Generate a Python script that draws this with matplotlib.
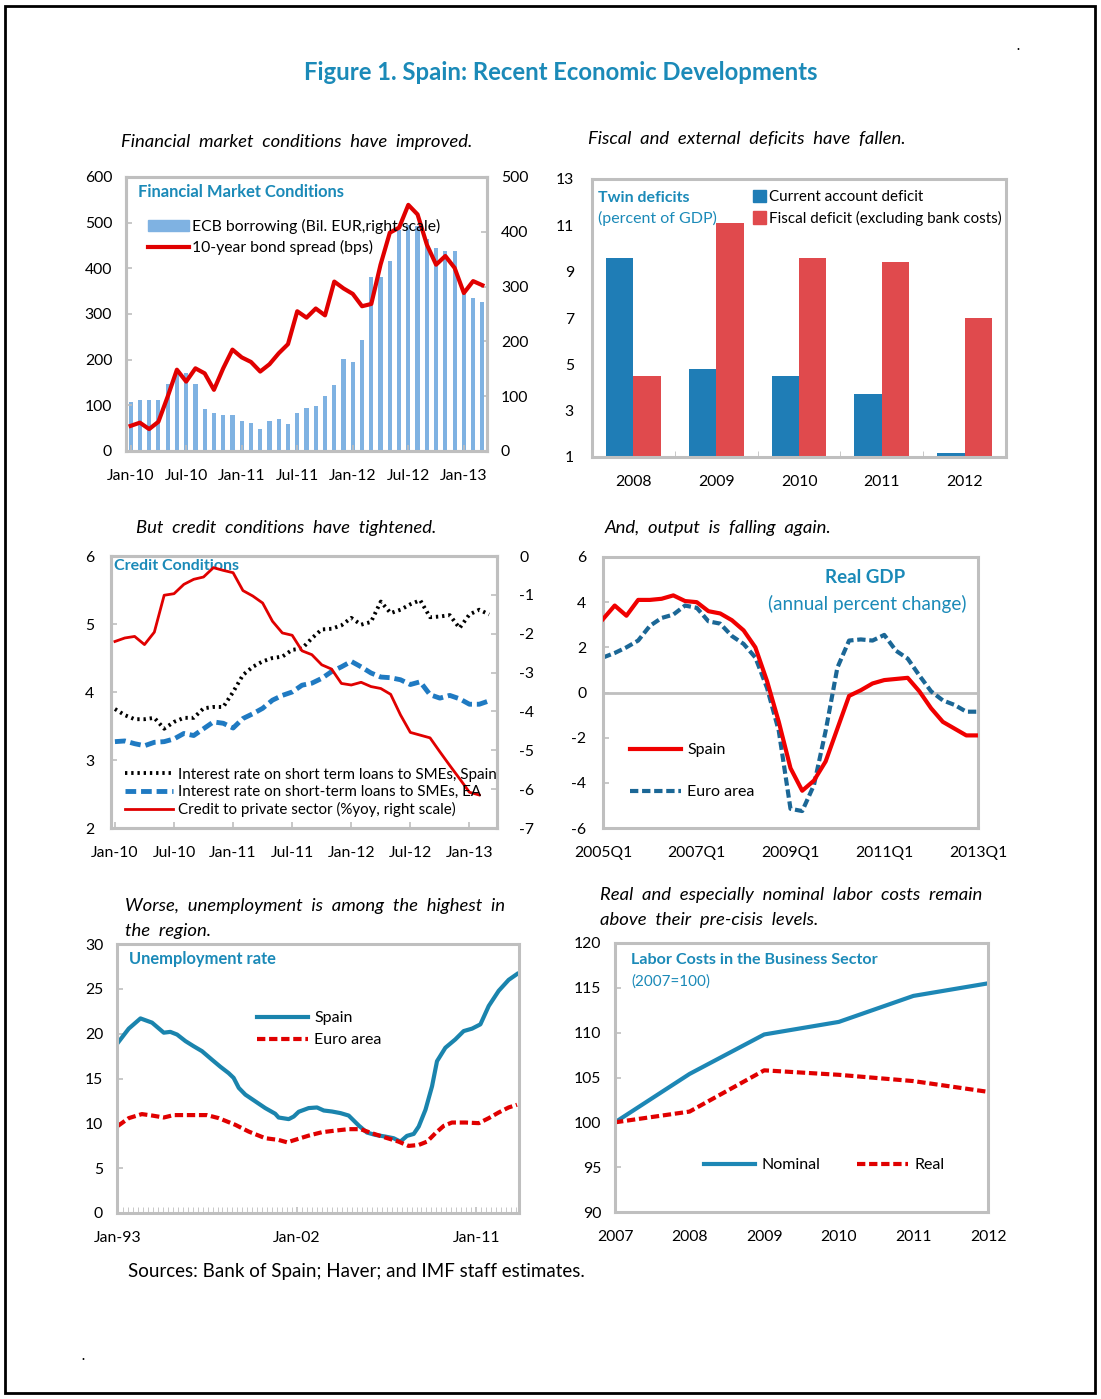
import numpy as np
import matplotlib.pyplot as plt
from matplotlib.patches import Rectangle, Patch
from matplotlib.lines import Line2D

plt.rcParams['font.family'] = ['Lato', 'DejaVu Sans']
plt.rcParams['font.size'] = 11
plt.rcParams['axes.unicode_minus'] = False

W, H = 1101, 1399
TEAL = '#1b8ab8'
FRAME = '#bfbfbf'

###############################
### data

# financial market conditions, monthly Jan-10 .. Mar-13
fm_ticks = ['Jan-10', 'Jul-10', 'Jan-11', 'Jul-11', 'Jan-12', 'Jul-12', 'Jan-13']
ecb_borrowing = [90, 93, 93, 93, 122, 142, 142, 122, 77, 70, 66, 65,
                 54, 51, 40, 54, 59, 49, 70, 79, 83, 101, 120, 168,
                 163, 203, 318, 318, 346, 404, 412, 410, 386, 370, 365, 365,
                 290, 280, 271]
bond_spread = [55, 62, 48, 64, 119, 178, 152, 181, 170, 134, 181, 222,
               205, 195, 174, 190, 214, 234, 306, 292, 312, 297, 371, 356,
               344, 317, 322, 408, 478, 489, 539, 518, 452, 408, 427, 401,
               346, 372, 363]

# twin deficits
years_td = ['2008', '2009', '2010', '2011', '2012']
current_account = [9.6, 4.8, 4.5, 3.7, 1.17]
fiscal_deficit = [4.5, 11.1, 9.6, 9.4, 7.0]

# credit conditions, monthly Jan-10 .. Mar-13
cc_ticks = fm_ticks
sme_spain = [3.75, 3.66, 3.60, 3.60, 3.62, 3.46, 3.56, 3.62, 3.62, 3.76, 3.78, 3.78,
             4.00, 4.25, 4.37, 4.45, 4.50, 4.52, 4.62, 4.64, 4.79, 4.92, 4.93, 4.98,
             5.09, 4.99, 5.03, 5.33, 5.16, 5.21, 5.29, 5.35, 5.10, 5.11, 5.13, 4.94,
             5.14, 5.21, 5.14]
sme_ea = [3.27, 3.28, 3.24, 3.21, 3.26, 3.27, 3.31, 3.39, 3.36, 3.46, 3.56, 3.54,
          3.47, 3.61, 3.68, 3.76, 3.88, 3.95, 4.00, 4.10, 4.13, 4.20, 4.30, 4.37,
          4.45, 4.37, 4.28, 4.22, 4.21, 4.18, 4.11, 4.15, 3.96, 3.91, 3.95, 3.90,
          3.82, 3.82, 3.87]
credit_private = [-2.20, -2.11, -2.07, -2.28, -1.96, -1.01, -0.97, -0.73, -0.60, -0.54, -0.30, -0.37,
                  -0.43, -0.89, -1.03, -1.21, -1.68, -1.98, -2.04, -2.44, -2.54, -2.80, -2.91, -3.28,
                  -3.32, -3.25, -3.36, -3.41, -3.56, -4.09, -4.54, -4.61, -4.68, -5.04, -5.39, -5.73,
                  -6.08, -6.15]

# real GDP, quarterly 2005Q1 .. 2013Q1
gdp_ticks = ['2005Q1', '2007Q1', '2009Q1', '2011Q1', '2013Q1']
gdp_spain = [3.25, 3.85, 3.4, 4.1, 4.1, 4.15, 4.3, 4.05, 4.0, 3.6, 3.5, 3.2,
             2.75, 2.0, 0.5, -1.3, -3.35, -4.35, -3.9, -3.05, -1.6, -0.15, 0.1, 0.4,
             0.55, 0.6, 0.65, 0.05, -0.7, -1.3, -1.6, -1.9, -1.9]
gdp_ea = [1.55, 1.75, 2.0, 2.3, 2.95, 3.3, 3.45, 3.85, 3.75, 3.15, 3.05, 2.5,
          2.15, 1.55, 0.2, -1.7, -5.15, -5.25, -4.1, -1.7, 1.1, 2.3, 2.35, 2.3,
          2.55, 1.85, 1.5, 0.75, 0.05, -0.35, -0.55, -0.85, -0.85]

# unemployment rate (decimal year, percent)
ue_ticks = ['Jan-93', 'Jan-02', 'Jan-11']
ue_spain_t = [1993.0, 1993.54, 1994.13, 1994.71, 1995.3, 1995.63, 1995.97, 1996.39, 1996.8,
              1997.22, 1997.72, 1998.15, 1998.56, 1998.81, 1999.07, 1999.4, 1999.9, 2000.4,
              2000.9, 2001.07, 2001.58, 2001.83, 2002.08, 2002.58, 2003.0, 2003.34, 2003.75,
              2004.18, 2004.59, 2005.1, 2005.51, 2005.93, 2006.44, 2006.85, 2007.19, 2007.52,
              2007.86, 2008.11, 2008.45, 2008.78, 2009.03, 2009.45, 2009.95, 2010.37, 2010.79,
              2011.21, 2011.63, 2012.13, 2012.63, 2013.05]
ue_spain = [19.0, 20.56, 21.7, 21.23, 20.11, 20.2, 19.9, 19.17, 18.6,
            18.05, 17.1, 16.3, 15.6, 15.07, 13.95, 13.2, 12.45, 11.7,
            11.07, 10.65, 10.47, 10.76, 11.29, 11.7, 11.77, 11.43, 11.32,
            11.14, 10.87, 9.75, 8.97, 8.71, 8.52, 8.34, 7.96, 8.6,
            8.82, 9.64, 11.51, 14.13, 16.93, 18.43, 19.36, 20.29, 20.56,
            21.04, 23.09, 24.78, 26.0, 26.65]
ue_ea_t = [1993.0, 1993.54, 1994.2, 1994.71, 1995.3, 1995.8, 1996.72, 1997.47, 1998.06,
           1998.9, 1999.57, 2000.4, 2001.07, 2001.5, 2002.58, 2003.25, 2003.92, 2004.59,
           2005.18, 2005.76, 2006.44, 2007.1, 2007.6, 2008.11, 2008.53, 2008.95, 2009.37,
           2009.78, 2010.46, 2011.13, 2011.63, 2012.13, 2012.63, 2013.05]
ue_ea = [9.72, 10.58, 11.03, 10.87, 10.65, 10.92, 10.92, 10.92, 10.58,
         9.83, 9.08, 8.34, 8.15, 7.88, 8.63, 9.01, 9.19, 9.35,
         9.35, 8.9, 8.41, 7.96, 7.48, 7.59, 7.96, 8.9, 9.72,
         10.09, 10.09, 10.02, 10.58, 11.21, 11.77, 12.07]

# labor costs (2007=100)
lc_years = [2007, 2008, 2009, 2010, 2011, 2012]
lc_nominal = [100, 105.4, 109.8, 111.2, 114.1, 115.5]
lc_real = [100, 101.2, 105.8, 105.3, 104.6, 103.4]


###############################
### helpers

fig = plt.figure(figsize=(W / 100, H / 100), dpi=100)


def px_axes(l, t, r, b):
    return fig.add_axes([l / W, 1 - b / H, (r - l) / W, (b - t) / H])


def ftext(x, y, s, **kw):
    kw.setdefault('va', 'center')
    fig.text(x / W, 1 - y / H, s, **kw)


def frame(ax, ypad=10, xpad=13):
    for sp in ax.spines.values():
        sp.set_color(FRAME)
        sp.set_linewidth(2.2)
    ax.tick_params(direction='in', length=4, width=1.2, color=FRAME,
                   labelsize=11.3, labelcolor='black')
    ax.tick_params(axis='y', pad=ypad)
    ax.tick_params(axis='x', pad=xpad)


def figbox(x, y):
    return (x / W, 1 - y / H)


###############################
### border + title

fig.add_artist(Rectangle((5 / W, 6 / H), 1090 / W, 1387 / H, transform=fig.transFigure,
                         fill=False, lw=2, ec='black'))
ftext(561, 73, 'Figure 1. Spain: Recent Economic Developments', ha='center',
      fontsize=17.2, fontweight='bold', color=TEAL)
ftext(1018, 46, '.', ha='center', fontsize=9, fontweight='bold', color='black')
ftext(83, 1356, '.', ha='center', fontsize=9, fontweight='bold', color='black')

sub = dict(fontsize=13.3, style='italic', color='black')
ftext(297, 142, 'Financial  market  conditions  have  improved.', ha='center', **sub)
ftext(588, 139, 'Fiscal  and  external  deficits  have  fallen.', ha='left', **sub)
ftext(136, 528, 'But  credit  conditions  have  tightened.', ha='left', **sub)
ftext(605, 528, 'And,  output  is  falling  again.', ha='left', **sub)
ftext(125, 906, 'Worse,  unemployment  is  among  the  highest  in', ha='left', **sub)
ftext(125, 931, 'the  region.', ha='left', **sub)
ftext(600, 895, 'Real  and  especially  nominal  labor  costs  remain', ha='left', **sub)
ftext(600, 920, 'above  their  pre-cisis  levels.', ha='left', **sub)
ftext(128, 1272, 'Sources: Bank of Spain; Haver; and IMF staff estimates.', ha='left',
      fontsize=13.5, color='black')

###############################
### 1. financial market conditions

ax = px_axes(126, 177, 487, 451)
ax2 = ax.twinx()
x = np.arange(len(bond_spread))
ax2.bar(x, ecb_borrowing, width=0.45, color='#7fb2e2', zorder=2)
ax.plot(x, bond_spread, color='#e00000', lw=3, zorder=3)
ax.set_zorder(ax2.get_zorder() + 1)
ax.patch.set_visible(False)
ax.set_ylim(0, 600)
ax.set_yticks(range(0, 601, 100))
ax2.set_ylim(0, 500)
ax2.set_yticks(range(0, 501, 100))
ax.set_xlim(-0.5, len(x) - 0.5)
ax.set_xticks(np.arange(0, len(x), 6))
ax.set_xticklabels(fm_ticks)
frame(ax)
frame(ax2)
ax.text(0.033, 0.945, 'Financial Market Conditions', transform=ax.transAxes,
        fontsize=11.9, fontweight='bold', color=TEAL, va='center')
handles = [Patch(color='#7fb2e2'), Line2D([], [], color='#e00000', lw=3)]
ax.legend(handles, ['ECB borrowing (Bil. EUR,right scale)', '10-year bond spread (bps)'],
          loc='upper left', bbox_to_anchor=figbox(140, 211), bbox_transform=fig.transFigure,
          frameon=False, borderpad=0, handlelength=2.6, handletextpad=0.2,
          labelspacing=0.4, fontsize=11.3)

###############################
### 2. twin deficits

ax = px_axes(592, 179, 1006, 457)
x = np.arange(len(years_td))
ax.bar(x - 0.165, np.array(current_account) - 1, bottom=1, width=0.33, color='#1f7db6')
ax.bar(x + 0.165, np.array(fiscal_deficit) - 1, bottom=1, width=0.33, color='#e04a4d')
ax.set_xlim(-0.5, len(x) - 0.5)
ax.set_ylim(1, 13)
ax.set_yticks(range(1, 14, 2))
ax.set_xticks(x)
ax.set_xticklabels(years_td)
ax.set_xticks(x[:-1] + 0.5, minor=True)
frame(ax, ypad=13, xpad=13)
ax.tick_params(axis='x', which='major', length=0)
ax.tick_params(axis='x', which='minor', direction='in', length=4, color=FRAME)
ax.tick_params(axis='y', length=0)
ftext(598, 198, 'Twin deficits', ha='left', fontsize=11.5, fontweight='bold', color=TEAL)
ftext(598, 218, '(percent of GDP)', ha='left', fontsize=11.5, color=TEAL)
handles = [Patch(color='#1f7db6'), Patch(color='#e04a4d')]
ax.legend(handles, ['Current account deficit', 'Fiscal deficit (excluding bank costs)'],
          loc='upper left', bbox_to_anchor=figbox(745, 182), bbox_transform=fig.transFigure,
          frameon=False, borderpad=0, handlelength=0.9, handleheight=0.9,
          handletextpad=0.2, labelspacing=0.45, fontsize=10.9)

###############################
### 3. credit conditions

ax = px_axes(111, 556, 497, 828)
ax2 = ax.twinx()
x = np.arange(len(sme_spain))
l1, = ax.plot(x, sme_spain, color='black', lw=2.8, ls=(0, (0.6, 1.0)))
l2, = ax.plot(x, sme_ea, color='#1f7ac2', lw=3.5, ls=(0, (2.2, 1.0)))
l3, = ax2.plot(np.arange(len(credit_private)), credit_private, color='#e00000', lw=2)
ax.set_xlim(-0.4, len(x) - 0.2)
ax.set_ylim(2, 6)
ax.set_yticks(range(2, 7))
ax2.set_ylim(-7, 0)
ax2.set_yticks(range(-7, 1))
ax.set_xticks(np.arange(0, len(x), 6))
ax.set_xticklabels(cc_ticks)
frame(ax, ypad=12)
frame(ax2, ypad=16)
ax.text(0.008, 0.965, 'Credit Conditions', transform=ax.transAxes,
        fontsize=11.5, fontweight='bold', color=TEAL, va='center')
ax2.legend([l1, l2, l3], ['Interest rate on short term loans to SMEs, Spain',
                          'Interest rate on short-term loans to SMEs, EA',
                          'Credit to private sector (%yoy, right scale)'],
           loc='upper left', bbox_to_anchor=figbox(117, 760), bbox_transform=fig.transFigure,
           frameon=False, borderpad=0, handlelength=3.2, handletextpad=0.3,
           labelspacing=0.22, fontsize=10.9)

###############################
### 4. real GDP

ax = px_axes(603, 557, 978, 828)
x = np.arange(len(gdp_spain))
ax.axhline(0, color=FRAME, lw=2, zorder=1)
s1, = ax.plot(x, gdp_spain, color='#f00000', lw=3, zorder=3)
s2, = ax.plot(x, gdp_ea, color='#1b6796', lw=3, ls=(0, (2.0, 0.9)), zorder=2)
ax.set_xlim(0, len(x) - 1)
ax.set_ylim(-6, 6)
ax.set_yticks(range(-6, 7, 2))
ax.set_xticks(np.arange(0, len(x), 8))
ax.set_xticklabels(gdp_ticks)
frame(ax, ypad=12)
ax.tick_params(axis='x', length=0)
ax.text(0.7, 0.925, 'Real GDP', transform=ax.transAxes, ha='center',
        fontsize=13.5, fontweight='bold', color=TEAL, va='center')
ax.text(0.705, 0.825, '(annual percent change)', transform=ax.transAxes, ha='center',
        fontsize=13.6, color=TEAL, va='center')
ax.legend([s1, s2], ['Spain', 'Euro area'], loc='upper left',
          bbox_to_anchor=figbox(622, 735), bbox_transform=fig.transFigure,
          frameon=False, borderpad=0, handlelength=3.2, handletextpad=0.4,
          labelspacing=1.75, fontsize=11.5)

###############################
### 5. unemployment

ax = px_axes(117, 944, 519, 1213)
u1, = ax.plot(ue_spain_t, ue_spain, color='#1a84ad', lw=3)
u2, = ax.plot(ue_ea_t, ue_ea, color='#e00000', lw=3, ls=(0, (2.0, 0.9)))
ax.set_xlim(1992.95, 2013.15)
ax.set_ylim(0, 30)
ax.set_yticks(range(0, 31, 5))
ax.set_xticks([1993, 2002, 2011])
ax.set_xticklabels(ue_ticks)
ax.set_xticks(np.arange(1993, 2013.2, 0.25), minor=True)
frame(ax)
ax.tick_params(axis='x', which='both', direction='in', length=4, color=FRAME)
ax.text(0.03, 0.945, 'Unemployment rate', transform=ax.transAxes,
        fontsize=11.9, fontweight='bold', color=TEAL, va='center')
ax.legend([u1, u2], ['Spain', 'Euro area'], loc='upper left',
          bbox_to_anchor=figbox(249, 1003), bbox_transform=fig.transFigure,
          frameon=False, borderpad=0, handlelength=3.2, handletextpad=0.4,
          labelspacing=0.5, fontsize=11.5)

###############################
### 6. labor costs

ax = px_axes(615, 943, 988, 1212)
n1, = ax.plot(lc_years, lc_nominal, color='#1d87b5', lw=3)
n2, = ax.plot(lc_years, lc_real, color='#e00000', lw=3, ls=(0, (2.0, 0.9)))
ax.set_xlim(lc_years[0], lc_years[-1])
ax.set_ylim(90, 120)
ax.set_yticks(range(90, 121, 5))
ax.set_xticks(lc_years)
frame(ax)
ax.tick_params(axis='x', length=0)
ax.text(0.043, 0.935, 'Labor Costs in the Business Sector', transform=ax.transAxes,
        fontsize=11.6, fontweight='bold', color=TEAL, va='center')
ax.text(0.043, 0.855, '(2007=100)', transform=ax.transAxes,
        fontsize=11, color=TEAL, va='center')
ax.legend([n1, n2], ['Nominal', 'Real'], loc='upper left', ncol=2,
          bbox_to_anchor=figbox(696, 1150), bbox_transform=fig.transFigure,
          frameon=False, borderpad=0, handlelength=3.2, handletextpad=0.4,
          columnspacing=2.3, fontsize=11.5)

fig.savefig('out.png', dpi=100)
